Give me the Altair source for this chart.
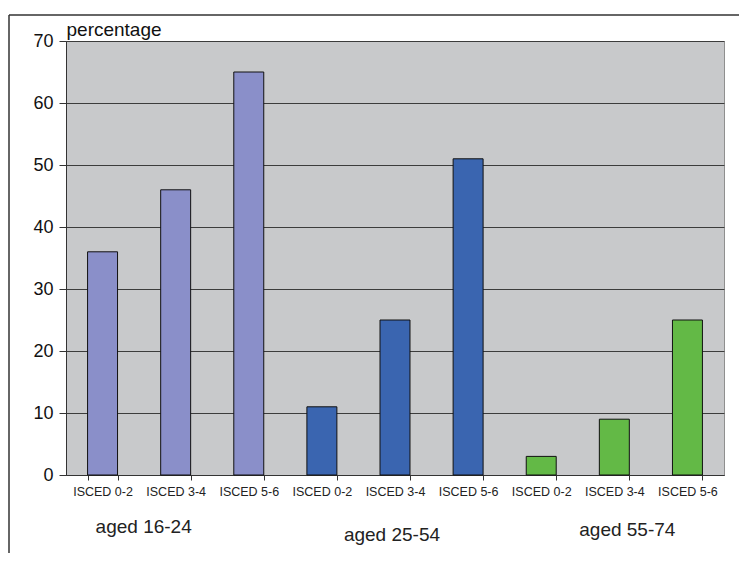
import altair as alt
import pandas as pd

groups = ["aged 16-24", "aged 25-54", "aged 55-74"]
levels = ["ISCED 0-2", "ISCED 3-4", "ISCED 5-6"]
values = [36, 46, 65, 11, 25, 51, 3, 9, 25]
colors = ["#8a8fc9", "#3a65b0", "#63b946"]

rows = []
for gi, g in enumerate(groups):
    for li, l in enumerate(levels):
        rows.append({"key": f"{g}|{l}", "group": g, "level": l,
                     "value": values[gi * 3 + li]})
df = pd.DataFrame(rows)
order = list(df["key"])

xenc = alt.X("key:N", sort=order, scale=alt.Scale(paddingInner=0.59, paddingOuter=0.295),
             axis=alt.Axis(title=None, labelExpr="split(datum.value, '|')[1]",
                           labelAngle=0, labelFontSize=12.5, labelColor="#222",
                           labelFont="Liberation Sans", tickBand="extent",
                           tickSize=5, tickColor="#333", domainColor="#333",
                           labelPadding=5, grid=False))
yenc = alt.Y("value:Q", scale=alt.Scale(domain=[0, 70]),
             axis=alt.Axis(values=list(range(0, 71, 10)), title="percentage",
                           titleAngle=0, titleX=0, titleY=-6, titleAlign="left",
                           titleBaseline="alphabetic", titleFontSize=19,
                           titleFontWeight="normal", titleColor="#111",
                           titleFont="Liberation Sans",
                           labelFontSize=18, labelColor="#111", labelFont="Liberation Sans",
                           labelPadding=6, tickSize=7, tickColor="#333",
                           domainColor="#333", gridColor="#3c3c3c", gridWidth=1,
                           gridOpacity=1))

bars = alt.Chart(df).mark_bar(stroke="#111", strokeWidth=1).encode(
    x=xenc, y=yenc,
    color=alt.Color("group:N", scale=alt.Scale(domain=groups, range=colors), legend=None),
)

offsets = [(-32, 52), (-3, 60), (13, 55)]
texts = []
for gi, g in enumerate(groups):
    sub = pd.DataFrame([{"key": f"{g}|{levels[1]}", "group": g, "value": 0}])
    dx, dy = offsets[gi]
    texts.append(alt.Chart(sub).mark_text(fontSize=19, font="Liberation Sans",
                                          color="#222", dx=dx, dy=dy,
                                          baseline="middle").encode(
        x=alt.X("key:N", sort=order), y=alt.Y("value:Q"), text="group:N"))

frame_top = alt.Chart(df.head(1)).mark_rule(color="#333", strokeWidth=1.5, clip=False).encode(
    x=alt.value(-57), x2=alt.value(760), y=alt.value(-26))
frame_left = alt.Chart(df.head(1)).mark_rule(color="#333", strokeWidth=1.5, clip=False).encode(
    x=alt.value(-57), y=alt.value(-26), y2=alt.value(600))

chart = alt.layer(frame_top, frame_left, bars, *texts).properties(
    width=658, height=434,
    autosize=alt.AutoSizeParams(type="none"),
    padding={"left": 58, "top": 33, "right": 15, "bottom": 78},
).configure(background="white"
).configure_view(fill="#c8c9cb", stroke="#8f8f8f", strokeWidth=1)

chart.save("out.html", embed_options={"renderer": "svg", "actions": False})
